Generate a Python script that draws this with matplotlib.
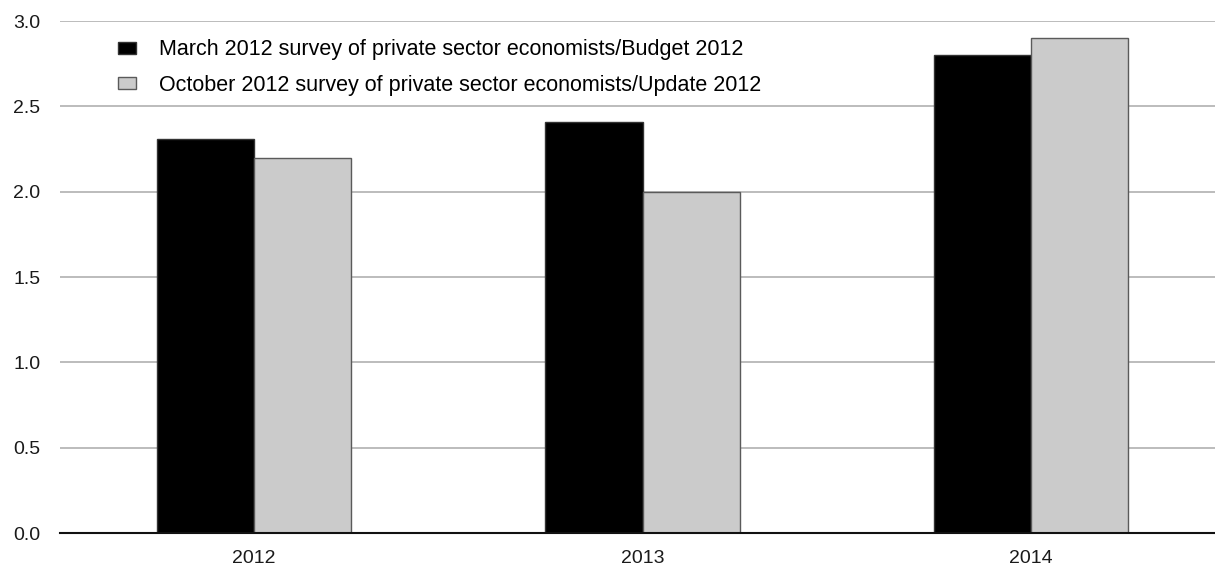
import numpy as np
import matplotlib.pyplot as plt

plt.rcParams['font.family'] = ['Liberation Sans', 'DejaVu Sans']

years = ['2012', '2013', '2014']
march_budget = [2.31, 2.41, 2.80]
october_update = [2.20, 2.00, 2.90]
labels = ['March 2012 survey of private sector economists/Budget 2012',
          'October 2012 survey of private sector economists/Update 2012']
yticks = [0.0, 0.5, 1.0, 1.5, 2.0, 2.5, 3.0]

fig = plt.figure(figsize=(12.15, 5.73), dpi=100)
ax = fig.add_axes([60 / 1215, 1 - 533 / 573, 1 - 60 / 1215, 512 / 573])

x = np.arange(len(years))
w = 0.25
ax.bar(x - w / 2, march_budget, w, color='black', edgecolor='#333333',
       linewidth=1, label=labels[0], zorder=3)
ax.bar(x + w / 2, october_update, w, color='#cbcbcb', edgecolor='#5a5a5a',
       linewidth=1, label=labels[1], zorder=3)

ax.set_xlim(-0.5, 2.474)
ax.set_ylim(0, 3.0)
ax.set_yticks(yticks)
ax.set_yticklabels([f'{v:.1f}' for v in yticks])
ax.set_xticks(x)
ax.set_xticklabels(years)
ax.tick_params(axis='both', length=0, labelsize=14, colors='#1a1a1a')
ax.tick_params(axis='y', pad=14)
ax.tick_params(axis='x', pad=12)

ax.yaxis.grid(True, color='#b0b0b0', linewidth=1.2, zorder=0)
ax.set_axisbelow(True)
for s in ['top', 'right', 'left']:
    ax.spines[s].set_visible(False)
ax.spines['bottom'].set_linewidth(1.5)
ax.spines['bottom'].set_color('#111111')
ax.spines['bottom'].set_zorder(4)

ax.legend(loc='upper left', bbox_to_anchor=(0.043, 0.981), frameon=False,
          fontsize=15.5, handlelength=0.84, handleheight=0.5,
          handletextpad=1.07, labelspacing=0.66, borderaxespad=0)

fig.savefig('out.png', dpi=100)
